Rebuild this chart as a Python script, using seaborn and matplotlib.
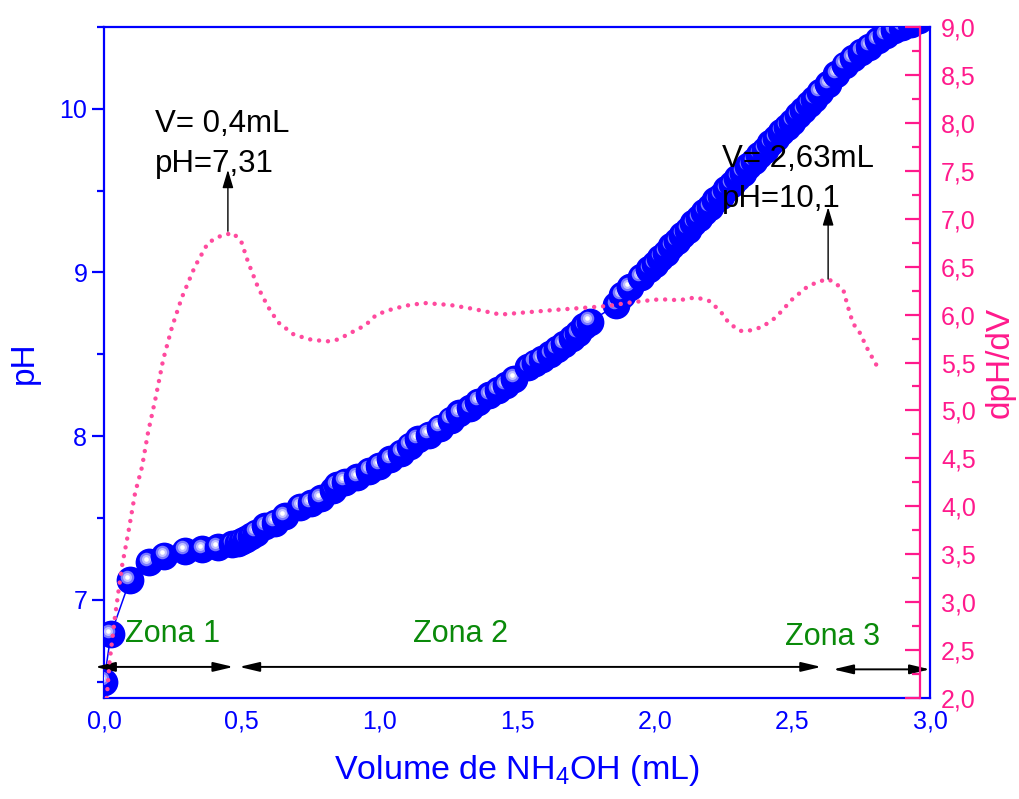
import matplotlib
matplotlib.use("Agg")
import matplotlib.pyplot as plt
import seaborn as sns
import numpy as np
from matplotlib.ticker import MultipleLocator, FuncFormatter
from matplotlib.transforms import offset_copy

# ---------------- data ----------------
vol_ph = [0.00, 0.025, 0.094, 0.163, 0.218, 0.294, 0.356, 0.414, 0.465, 0.485,
          0.50, 0.515, 0.535, 0.552, 0.585, 0.62, 0.657, 0.712, 0.75, 0.788,
          0.83, 0.846, 0.875, 0.92, 0.963, 1.00, 1.04, 1.08, 1.11, 1.14,
          1.18, 1.22, 1.26, 1.29, 1.33, 1.36, 1.40, 1.43, 1.46, 1.49,
          1.54, 1.565, 1.59, 1.62, 1.645, 1.67, 1.70, 1.72, 1.745, 1.765,
          1.86, 1.88, 1.91, 1.95, 1.98, 2.00, 2.02, 2.04, 2.06, 2.08,
          2.10, 2.12, 2.14, 2.16, 2.18, 2.20, 2.22, 2.24, 2.26, 2.28,
          2.30, 2.32, 2.34, 2.36, 2.38, 2.40, 2.42, 2.44, 2.46, 2.48,
          2.50, 2.52, 2.54, 2.56, 2.58, 2.60, 2.63, 2.66, 2.69, 2.72,
          2.75, 2.78, 2.81, 2.84, 2.87, 2.90, 2.93, 2.96]
ph = [6.50, 6.79, 7.12, 7.23, 7.27, 7.30, 7.31, 7.32, 7.34, 7.35,
      7.36, 7.37, 7.39, 7.41, 7.45, 7.47, 7.51, 7.57, 7.59, 7.62,
      7.67, 7.70, 7.72, 7.75, 7.79, 7.82, 7.86, 7.90, 7.94, 7.98,
      8.01, 8.05, 8.10, 8.14, 8.17, 8.21, 8.25, 8.28, 8.31, 8.35,
      8.42, 8.45, 8.47, 8.50, 8.53, 8.56, 8.60, 8.63, 8.67, 8.70,
      8.80, 8.86, 8.91, 8.97, 9.02, 9.05, 9.09, 9.12, 9.16, 9.19,
      9.23, 9.26, 9.30, 9.33, 9.37, 9.40, 9.44, 9.47, 9.51, 9.54,
      9.58, 9.61, 9.65, 9.68, 9.72, 9.75, 9.79, 9.82, 9.86, 9.89,
      9.92, 9.96, 9.99, 10.03, 10.06, 10.10, 10.15, 10.21, 10.27, 10.31,
      10.35, 10.38, 10.42, 10.45, 10.48, 10.50, 10.52, 10.54]

vol_d = [0.01, 0.02, 0.04, 0.065, 0.088, 0.113, 0.138, 0.16, 0.186, 0.215,
         0.247, 0.283, 0.33, 0.378, 0.43, 0.47, 0.50, 0.523, 0.56, 0.596,
         0.632, 0.69, 0.75, 0.81, 0.85, 0.89, 0.95, 0.99, 1.05, 1.11,
         1.166, 1.257, 1.34, 1.44, 1.52, 1.645, 1.74, 1.83, 1.92, 2.02,
         2.09, 2.15, 2.20, 2.24, 2.27, 2.31, 2.34, 2.39, 2.44, 2.50,
         2.55, 2.59, 2.63, 2.655, 2.685, 2.70, 2.72, 2.745, 2.775, 2.81]
dph_dv = [2.00, 2.37, 2.85, 3.37, 3.72, 4.14, 4.41, 4.77, 5.11, 5.53,
          5.87, 6.18, 6.50, 6.75, 6.83, 6.85, 6.75, 6.55, 6.28, 6.08,
          5.92, 5.79, 5.74, 5.72, 5.74, 5.80, 5.89, 6.00, 6.06, 6.10,
          6.12, 6.10, 6.06, 6.00, 6.02, 6.05, 6.07, 6.09, 6.13, 6.16,
          6.15, 6.18, 6.14, 6.03, 5.91, 5.83, 5.83, 5.87, 5.97, 6.16,
          6.28, 6.34, 6.37, 6.33, 6.26, 6.10, 5.91, 5.81, 5.63, 5.45]

peak1 = (0.45, 6.87)
peak2 = (2.63, 6.37)
arrow_tips = [7.51, 7.12]
peak_labels = [["V= 0,4mL", "pH=7,31"], ["V= 2,63mL", "pH=10,1"]]
zone_labels = ["Zona 1", "Zona 2", "Zona 3"]
zone_spans = [(-0.033, 0.470), (0.491, 2.605), (2.648, 3.0)]

BLUE = "#0000FF"
PINK_AX = "#FF1A8C"
PINK_DOT = "#FF4A9E"
GREEN = "#0A8A0A"

sns.set_theme(style="white")
plt.rcParams["font.family"] = ["Liberation Sans", "DejaVu Sans"]
plt.rcParams["mathtext.fontset"] = "custom"
plt.rcParams["mathtext.rm"] = "Liberation Sans"
plt.rcParams["mathtext.default"] = "regular"

fig = plt.figure(figsize=(10.19, 7.99), dpi=100)
fig.patch.set_facecolor("white")
ax = fig.add_axes([104 / 1019, 1 - 698 / 799, 826 / 1019, 671 / 799])
ax.set_facecolor("white")

# thin connecting line
sns.lineplot(x=vol_ph, y=ph, ax=ax, color=BLUE, lw=1.1, sort=False, zorder=2.5,
             estimator=None)

# sphere-like markers, drawn point by point (later ones cover earlier highlights)
tr_hl = offset_copy(ax.transData, fig=fig, x=-2.5, y=3.5, units="dots")
for xv, yv in zip(vol_ph, ph):
    ax.scatter([xv], [yv], s=400, color=BLUE, linewidths=0, zorder=3)
    ax.scatter([xv], [yv], s=95, color="#7a7aff", linewidths=0, zorder=3, transform=tr_hl)
    ax.scatter([xv], [yv], s=42, color="#c0c0ff", linewidths=0, zorder=3, transform=tr_hl)
    ax.scatter([xv], [yv], s=11, color="white", linewidths=0, zorder=3, transform=tr_hl)

ax.set_xlim(0, 3.0)
ax.set_ylim(6.4, 10.5)

ax2 = ax.twinx()
sns.lineplot(x=vol_d, y=dph_dv, ax=ax2, color=PINK_DOT, lw=3.2, sort=False,
             estimator=None)
ln = ax2.lines[-1]
ln.set_linestyle((0, (0.01, 2.0)))
ln.set_dash_capstyle("round")
ax2.set_ylim(2.0, 9.0)

# spines
for s in ["left", "bottom", "top", "right"]:
    ax.spines[s].set_color(BLUE)
    ax.spines[s].set_linewidth(1.6)
for s in ["left", "bottom", "top"]:
    ax2.spines[s].set_visible(False)
ax2.spines["right"].set_position(("axes", 0.988))
ax2.spines["right"].set_color(PINK_AX)
ax2.spines["right"].set_linewidth(1.6)

comma1 = FuncFormatter(lambda v, p: f"{v:.1f}".replace(".", ","))
ax.xaxis.set_major_locator(MultipleLocator(0.5))
ax.xaxis.set_minor_locator(MultipleLocator(0.25))
ax.xaxis.set_major_formatter(comma1)
ax.yaxis.set_major_locator(MultipleLocator(1))
ax.yaxis.set_minor_locator(MultipleLocator(0.5))
ax.yaxis.set_major_formatter(FuncFormatter(lambda v, p: f"{v:.0f}"))
ax2.yaxis.set_major_locator(MultipleLocator(0.5))
ax2.yaxis.set_minor_locator(MultipleLocator(0.25))
ax2.yaxis.set_major_formatter(comma1)

ax.tick_params(axis="both", which="both", direction="out", colors=BLUE,
               top=False, right=False, width=1.6)
ax.tick_params(axis="x", which="major", length=11, labelsize=18, pad=-3)
ax.tick_params(axis="x", which="minor", length=6)
ax.tick_params(axis="y", which="major", length=9, labelsize=18, pad=3)
ax.tick_params(axis="y", which="minor", length=5)
ax2.tick_params(axis="y", which="both", direction="in", colors=PINK_AX,
                width=1.6, left=False, right=True)
ax2.tick_params(axis="y", which="major", length=11, labelsize=18, pad=15)
ax2.tick_params(axis="y", which="minor", length=6)

ax.set_xlabel("Volume de NH$_4$OH (mL)", fontsize=24.5, color=BLUE, labelpad=14)
ax.set_ylabel("pH", fontsize=24, color=BLUE)
ax.yaxis.set_label_coords(-0.078, 0.5)
ax2.set_ylabel("dpH/dV", fontsize=24, color=PINK_AX)
ax2.yaxis.set_label_coords(1.066, 0.5)

# peak annotations
for (px, py), tip in zip([peak1, peak2], arrow_tips):
    ax2.annotate("", xy=(px, tip), xytext=(px, py),
                 arrowprops=dict(arrowstyle="-|>,head_length=0.5,head_width=0.15",
                                 color="black", lw=1.0, shrinkA=0, shrinkB=0,
                                 mutation_scale=22))
ax.text(0.185, 9.859, peak_labels[0][0], fontsize=22.5, color="black", va="baseline", zorder=6)
ax.text(0.185, 9.615, peak_labels[0][1], fontsize=22.5, color="black", va="baseline", zorder=6)
ax.text(2.245, 9.645, peak_labels[1][0], fontsize=22.5, color="black", va="baseline", zorder=6)
ax.text(2.245, 9.40, peak_labels[1][1], fontsize=22.5, color="black", va="baseline", zorder=6)

# zones
zone_pos = [(0.076, 6.743), (1.122, 6.743), (2.474, 6.725)]
for lab, (zx, zy) in zip(zone_labels, zone_pos):
    ax.text(zx, zy, lab, fontsize=22, color=GREEN, va="baseline", zorder=6)
zone_y = [6.590, 6.590, 6.575]
for (x0, x1), zy in zip(zone_spans, zone_y):
    ax.annotate("", xy=(x1, zy), xytext=(x0, zy), annotation_clip=False,
                arrowprops=dict(arrowstyle="<|-|>,head_length=0.55,head_width=0.13",
                                color="black", lw=1.4, shrinkA=0, shrinkB=0,
                                mutation_scale=22))

fig.savefig("out.png", dpi=100, facecolor="white")
